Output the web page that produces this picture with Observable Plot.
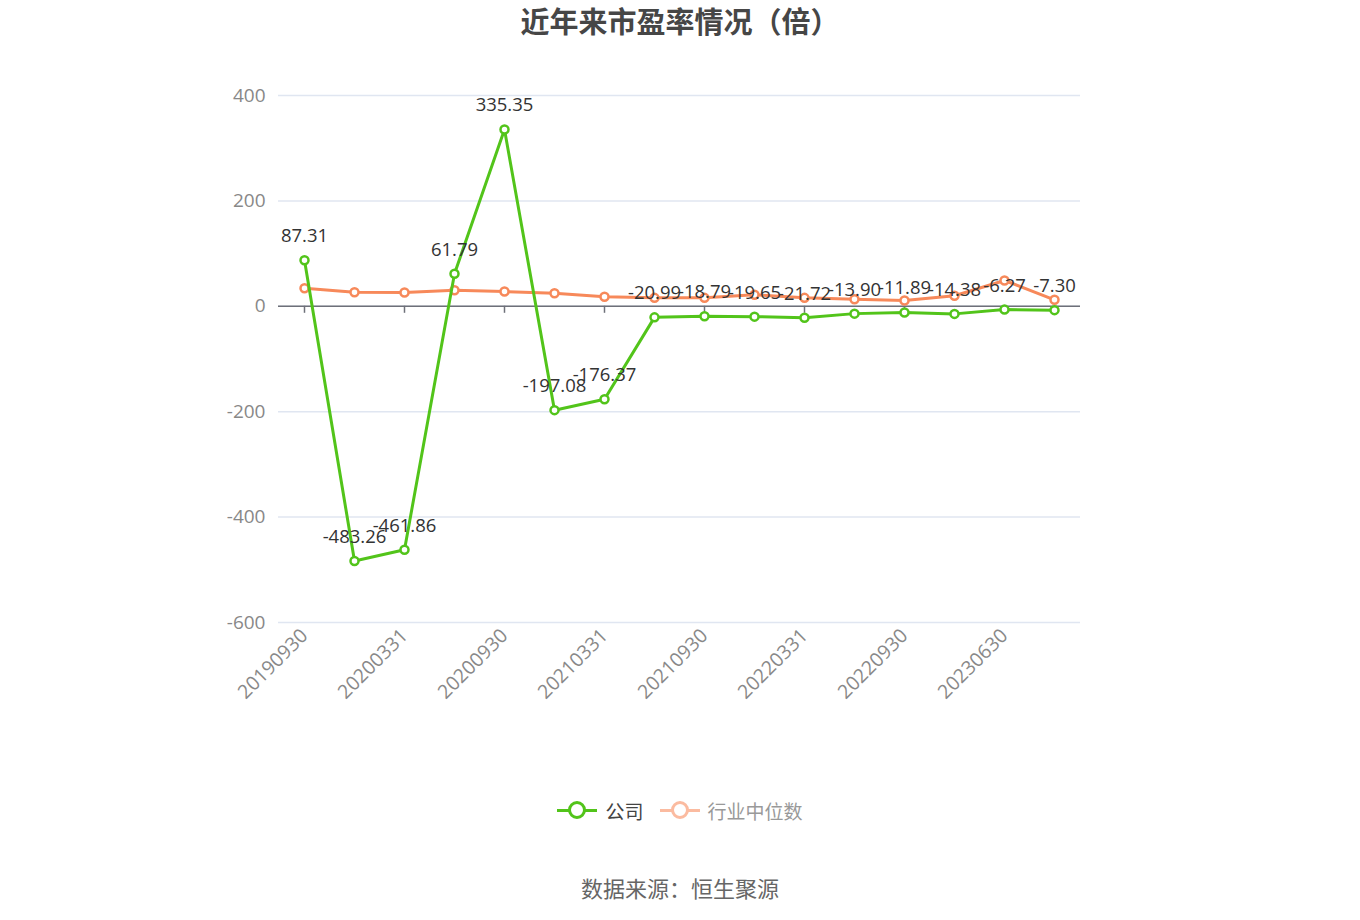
<!DOCTYPE html>
<html>
<head>
<meta charset="utf-8">
<script src="https://cdn.jsdelivr.net/npm/d3@7"></script>
<script src="https://cdn.jsdelivr.net/npm/@observablehq/plot@0.6"></script>
<style>
  body { margin: 0; background: #fff; font-family: "Open Sans", "Noto Sans CJK SC", sans-serif; }
  #wrap { position: relative; width: 1360px; height: 920px; }
  #title { position: absolute; left: 0; top: 0; width: 1360px; height: 44px; text-align: center;
    font-family: "Noto Sans CJK SC", sans-serif; font-weight: bold; font-size: 29px; line-height: 40px; color: #464646; }
  #chart { position: absolute; left: 0; top: 44px; }
  #legend { position: absolute; left: 0; top: 795px; width: 1360px; height: 30px; display: flex; justify-content: center; align-items: center;
    font-family: "Noto Sans CJK SC", sans-serif; font-size: 19px; }
  .item { display: flex; align-items: center; margin: 0 8px; }
  .icon { position: relative; width: 40px; height: 20px; margin-right: 8px; }
  .icon .ln { position: absolute; left: 0; top: 8.5px; width: 40px; height: 3px; }
  .icon .ci { position: absolute; left: 11px; top: 1px; width: 12px; height: 12px; border-radius: 50%; background: #fff; border-width: 3px; border-style: solid; }
  #caption { position: absolute; left: 0; top: 871px; width: 1360px; text-align: center;
    font-family: "Noto Sans CJK SC", sans-serif; font-size: 22px; color: #666; }
</style>
</head>
<body>
<div id="wrap">
  <div id="title">近年来市盈率情况（倍）</div>
  <div id="chart"></div>
  <div id="legend">
    <div class="item"><div class="icon"><div class="ln" style="background:#52c41a"></div><div class="ci" style="border-color:#52c41a"></div></div><span style="color:#444">公司</span></div>
    <div class="item"><div class="icon"><div class="ln" style="background:#fbbba0"></div><div class="ci" style="border-color:#fbbba0"></div></div><span style="color:#999">行业中位数</span></div>
  </div>
  <div id="caption">数据来源：恒生聚源</div>
</div>
<script>
const dates = ["20190930","20191231","20200331","20200630","20200930","20201231","20210331","20210630",
  "20210930","20211231","20220331","20220630","20220930","20221231","20230630","20230930"];
const company = [87.31, -483.26, -461.86, 61.79, 335.35, -197.08, -176.37, -20.99,
  -18.79, -19.65, -21.72, -13.90, -11.89, -14.38, -6.27, -7.30];
const industry = [34.3, 26.8, 26.2, 30.6, 28.0, 24.9, 18.0, 16.0,
  16.0, 22.0, 16.0, 13.5, 11.0, 20.0, 49.0, 12.3];
const yTicks = [-600, -400, -200, 0, 200, 400];
const xTickLabels = ["20190930","20200331","20200930","20210331","20210930","20220331","20220930","20230630"];

const GREEN = "#52c41a";
const ORANGE = "#f7895a";

const comp = dates.map((d, i) => ({date: d, v: company[i]}));
const ind = dates.map((d, i) => ({date: d, v: industry[i]}));

const chart = Plot.plot({
  width: 1360,
  height: 716,
  marginTop: 51,
  marginBottom: 138,
  marginLeft: 278,
  marginRight: 280,
  style: {fontFamily: '"Open Sans", "Noto Sans CJK SC", sans-serif', background: "transparent"},
  x: {type: "point", domain: dates, padding: 0.5},
  y: {domain: [-600, 400]},
  marks: [
    Plot.gridY(yTicks, {stroke: "#e0e6f1", strokeOpacity: 1, strokeWidth: 1.5}),
    Plot.axisY(yTicks, {tickSize: 0, tickPadding: 13, fontSize: 19, fill: "#888", label: null, tickFormat: d => String(d)}),
    Plot.axisX(xTickLabels, {tickSize: 0, tickRotate: -45, tickPadding: 10, fontSize: 19.5, fill: "#888", label: null}),
    Plot.ruleY([0], {stroke: "#6e7079", strokeWidth: 1.5}),
    Plot.ruleX(xTickLabels, {x: d => d, y1: 0, y2: 0, insetBottom: -7, stroke: "#6e7079", strokeWidth: 1.5}),
    Plot.line(ind, {x: "date", y: "v", stroke: ORANGE, strokeWidth: 3}),
    Plot.dot(ind, {x: "date", y: "v", r: 4, fill: "#fff", stroke: ORANGE, strokeWidth: 2.5}),
    Plot.line(comp, {x: "date", y: "v", stroke: GREEN, strokeWidth: 3}),
    Plot.dot(comp, {x: "date", y: "v", r: 4, fill: "#fff", stroke: GREEN, strokeWidth: 2.5}),
    Plot.text(comp, {x: "date", y: "v", text: d => d.v.toFixed(2), dy: -24, fontSize: 18.5, fill: "#333"})
  ]
});
document.getElementById("chart").appendChild(chart);
</script>
</body>
</html>
